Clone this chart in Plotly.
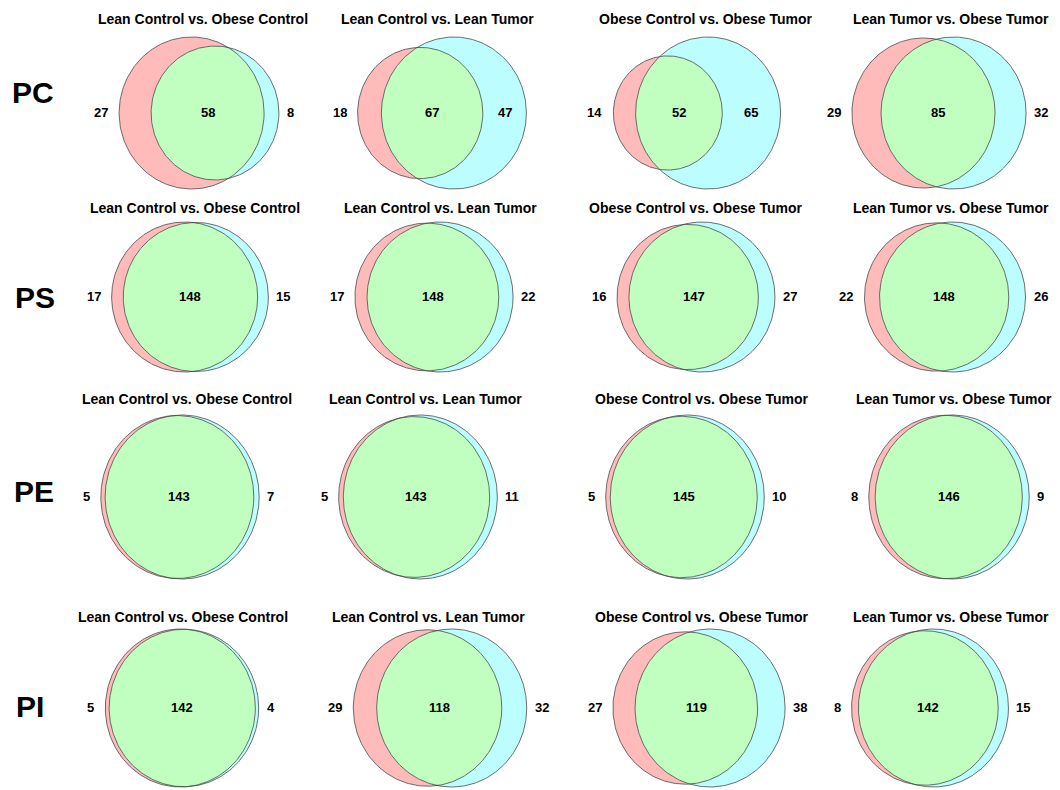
import numpy as np
import plotly.graph_objects as go

# ---------------- data ----------------
row_labels = ["PC", "PS", "PE", "PI"]
comparisons = ["Lean Control vs. Obese Control", "Lean Control vs. Lean Tumor",
               "Obese Control vs. Obese Tumor", "Lean Tumor vs. Obese Tumor"]
# left-only, shared, right-only counts for each row (4 comparisons)
left_only = [[27, 18, 14, 29],
             [17, 17, 16, 22],
             [5, 5, 5, 8],
             [5, 29, 27, 8]]
shared = [[58, 67, 52, 85],
          [148, 148, 147, 148],
          [143, 143, 145, 146],
          [142, 118, 119, 142]]
right_only = [[8, 47, 65, 32],
              [15, 22, 27, 26],
              [7, 11, 10, 9],
              [4, 32, 38, 15]]

# ---------------- layout (pixels) ----------------
W, H = 1060, 790
row_cy = [113, 297, 497, 708]
row_dx = [145, 146, 154, 150]      # horizontal diameter of largest circle
row_dy = [152, 150, 164, 158]      # vertical diameter of largest circle
row_title_y = [19, 208, 399, 617]
row_label_xy = [(33, 92), (35, 297), (34, 491), (30, 706)]
cell_cx = [[199, 442, 697, 939],
           [190, 434, 696, 945],
           [180, 418, 685, 949],
           [182, 440, 699, 930]]
cell_title_cx = [[203, 437, 705, 951],
                 [195, 440, 695, 951],
                 [187, 425, 701, 954],
                 [183, 428, 701, 951]]

PINK = "#FFBABA"
CYAN = "#BCFEFF"
GREEN = "#C0FFC0"
EDGE = "#4a4a4a"
FONT = "Liberation Sans, Arial, sans-serif"


def overlap_area(d, r1, r2):
    a1 = np.clip((d * d + r1 * r1 - r2 * r2) / (2 * d * r1), -1, 1)
    a2 = np.clip((d * d + r2 * r2 - r1 * r1) / (2 * d * r2), -1, 1)
    k = (-d + r1 + r2) * (d + r1 - r2) * (d - r1 + r2) * (d + r1 + r2)
    return r1 * r1 * np.arccos(a1) + r2 * r2 * np.arccos(a2) - 0.5 * np.sqrt(max(k, 0))


def solve_distance(r1, r2, target):
    lo, hi = abs(r1 - r2) + 1e-9, r1 + r2 - 1e-9
    for _ in range(200):
        mid = 0.5 * (lo + hi)
        if overlap_area(mid, r1, r2) > target:
            lo = mid
        else:
            hi = mid
    return 0.5 * (lo + hi)


fig = go.Figure()
annotations = []

for r in range(4):
    for c in range(4):
        L, S, R = left_only[r][c], shared[r][c], right_only[r][c]
        A1, A2 = L + S, R + S
        r1, r2 = np.sqrt(A1 / np.pi), np.sqrt(A2 / np.pi)
        d = solve_distance(r1, r2, S)
        sx = (row_dx[r] / 2) / max(r1, r2)
        sy = (row_dy[r] / 2) / max(r1, r2)
        xmin = min(-r1, d - r2)
        xmax = max(r1, d + r2)
        off = cell_cx[r][c] - sx * (xmin + xmax) / 2
        cy = row_cy[r]

        def to_px(x, y):
            return off + sx * np.asarray(x), cy - sy * np.asarray(y)

        t = np.linspace(0, 2 * np.pi, 241)
        c1x, c1y = to_px(r1 * np.cos(t), r1 * np.sin(t))
        c2x, c2y = to_px(d + r2 * np.cos(t), r2 * np.sin(t))

        # lens
        a = (d * d + r1 * r1 - r2 * r2) / (2 * d)
        h = np.sqrt(max(r1 * r1 - a * a, 0))
        th1 = np.arctan2(h, a)
        ph = np.arctan2(h, a - d)
        ta = np.linspace(-th1, th1, 120)
        tb = np.linspace(ph, 2 * np.pi - ph, 120)
        lx = np.concatenate([r1 * np.cos(ta), d + r2 * np.cos(tb)])
        ly = np.concatenate([r1 * np.sin(ta), r2 * np.sin(tb)])
        lpx, lpy = to_px(lx, ly)

        for xs, ys, col in [(c1x, c1y, PINK), (c2x, c2y, CYAN), (lpx, lpy, GREEN)]:
            fig.add_trace(go.Scatter(x=xs, y=ys, mode="lines", fill="toself",
                                     fillcolor=col, line=dict(width=0, color=col),
                                     hoverinfo="skip", showlegend=False))
        for xs, ys in [(c1x, c1y), (c2x, c2y)]:
            fig.add_trace(go.Scatter(x=xs, y=ys, mode="lines",
                                     line=dict(width=0.8, color=EDGE),
                                     hoverinfo="skip", showlegend=False))

        # label positions
        left_edge = off + sx * xmin
        right_edge = off + sx * xmax
        c2_left = off + sx * (d - r2)
        c1_right = off + sx * r1
        ly_lab = cy - 1
        # left-only label
        if (c2_left - left_edge) > 40:
            annotations.append(dict(x=(left_edge + c2_left) / 2, y=ly_lab, text=f"<b>{L}</b>",
                                    xanchor="center"))
        else:
            annotations.append(dict(x=left_edge - 9, y=ly_lab, text=f"<b>{L}</b>", xanchor="right"))
        # right-only label
        if (right_edge - c1_right) > 40:
            annotations.append(dict(x=(right_edge + c1_right) / 2, y=ly_lab, text=f"<b>{R}</b>",
                                    xanchor="center"))
        else:
            annotations.append(dict(x=right_edge + 6, y=ly_lab, text=f"<b>{R}</b>", xanchor="left"))
        # shared label
        annotations.append(dict(x=(c2_left + c1_right) / 2, y=ly_lab, text=f"<b>{S}</b>",
                                xanchor="center"))
        # title
        annotations.append(dict(x=cell_title_cx[r][c], y=row_title_y[r],
                                text=f"<b>{comparisons[c]}</b>", xanchor="center",
                                font=dict(family=FONT, size=14, color="black")))

    annotations.append(dict(x=row_label_xy[r][0], y=row_label_xy[r][1],
                            text=f"<b>{row_labels[r]}</b>", xanchor="center",
                            font=dict(family=FONT, size=30, color="black")))

for an in annotations:
    an.setdefault("font", dict(family=FONT, size=13, color="black"))
    an.update(xref="x", yref="y", showarrow=False, yanchor="middle")

fig.update_layout(
    width=W, height=H,
    margin=dict(l=0, r=0, t=0, b=0),
    paper_bgcolor="white", plot_bgcolor="white",
    xaxis=dict(range=[0, W], visible=False, fixedrange=True),
    yaxis=dict(range=[H, 0], visible=False, fixedrange=True),
    annotations=annotations,
    showlegend=False,
)

fig.write_html("out.html")
